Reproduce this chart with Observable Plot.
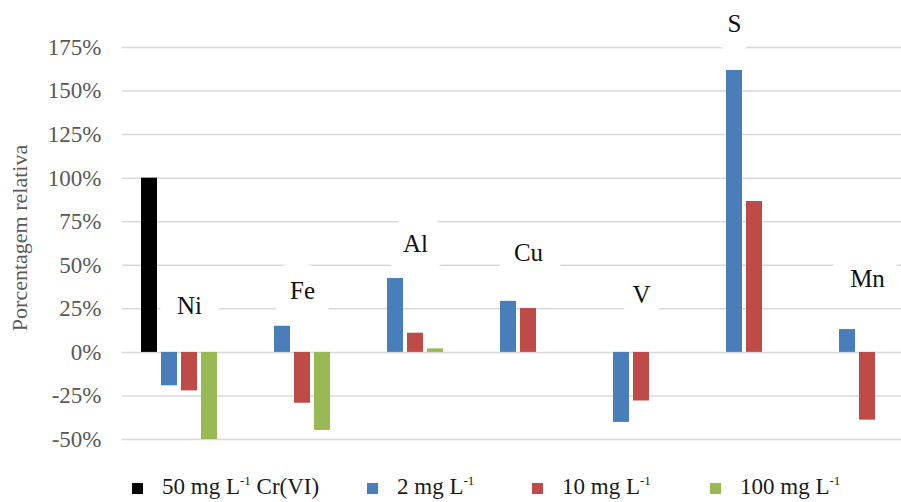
<!DOCTYPE html>
<html>
<head>
<meta charset="utf-8">
<script src="https://cdn.jsdelivr.net/npm/d3@7"></script>
<script src="https://cdn.jsdelivr.net/npm/@observablehq/plot@0.6"></script>
<style>
  html, body { margin: 0; padding: 0; background: #fff; overflow: hidden; }
  #wrap { position: relative; width: 901px; height: 502px; }
  #legend {
    position: absolute; left: 0; top: 474px; width: 901px;
    font-family: "Liberation Serif", Tinos, "DejaVu Serif", serif;
    font-size: 23px; color: #1a1a1a; line-height: 26px;
  }
  #legend .item { position: absolute; top: 0; display: flex; align-items: center; white-space: nowrap; }
  #legend .sw { display: inline-block; width: 11px; height: 11px; margin-right: 19px; }
  #legend sup { font-size: 13px; vertical-align: 0; position: relative; top: -9px; }
  #ytitle {
    position: absolute; left: 20px; top: 238px;
    transform: translate(-50%, -50%) rotate(-90deg);
    font-family: "Liberation Serif", Tinos, "DejaVu Serif", serif;
    font-size: 22px; color: #595959; white-space: nowrap;
  }
</style>
</head>
<body>
<div id="wrap">
  <div id="chart"></div>
  <div id="ytitle">Porcentagem relativa</div>
  <div id="legend"></div>
</div>
<script>
// Elements analysed and relative percentage for each concentration
const elements = ["Ni", "Fe", "Al", "Cu", "V", "S", "Mn"];
const cr50  = [100, null, null, null, null, null, null];          // 50 mg L-1 Cr(VI)
const mg2   = [-19.2, 15.0, 42.4, 29.3, -40.2, 161.8, 13.1];      // 2 mg L-1
const mg10  = [-22.1, -29.2, 11.0, 25.2, -27.9, 86.6, -38.9];     // 10 mg L-1
const mg100 = [-50.0, -44.8, 2.0, null, null, null, null];        // 100 mg L-1

const seriesKeys = ["Cr", "2", "10", "100"];
const seriesColors = ["#000000", "#4a7ebb", "#be4b48", "#98b954"];
const yTicks = [-50, -25, 0, 25, 50, 75, 100, 125, 150, 175];

// Element labels: anchored to a bar slot and a height on the percentage scale
const labelSlot = ["10", "10", "10", "10", "10", "2", "10"];
const labelY = [26.8, 35.5, 62, 57, 33, 188.5, 42.4];

const rows = [];
[cr50, mg2, mg10, mg100].forEach((vals, s) => {
  vals.forEach((v, i) => {
    if (v != null) rows.push({el: elements[i], series: seriesKeys[s], value: v});
  });
});
const labels = elements.map((el, i) => ({el, slot: labelSlot[i], y: labelY[i]}));

const serif = "'Liberation Serif', Tinos, 'DejaVu Serif', serif";

const chart = Plot.plot({
  width: 901,
  height: 455,
  marginLeft: 119,
  marginRight: -14,
  marginTop: 47,
  marginBottom: 16,
  style: {
    fontFamily: serif,
    fontSize: "23px",
    color: "#595959",
    background: "#fff"
  },
  fx: {domain: elements, paddingInner: 0, paddingOuter: 0, axis: null, label: null},
  x: {domain: seriesKeys, paddingInner: 0.21, paddingOuter: 0.905, axis: null},
  y: {domain: [-50, 175], axis: null},
  color: {domain: seriesKeys, range: seriesColors},
  marks: [
    Plot.ruleY(yTicks, {stroke: "#d9d9d9", strokeWidth: 1.5}),
    Plot.axisY(yTicks, {
      tickFormat: d => `${d}%`,
      tickSize: 0,
      tickPadding: 21,
      fontSize: 23,
      fill: "#595959",
      label: null
    }),
    Plot.barY(rows, {fx: "el", x: "series", y1: 0, y2: "value", fill: "series"}),
    Plot.text(labels, {
      fx: "el", x: "slot", y: "y", text: "el",
      fontSize: 25, fill: "#111",
      stroke: "#fff", strokeWidth: 36
    })
  ]
});
document.getElementById("chart").appendChild(chart);

// Legend below the plot
const legendText = [
  "50 mg L<sup>-1</sup> Cr(VI)",
  "2 mg L<sup>-1</sup>",
  "10 mg L<sup>-1</sup>",
  "100 mg L<sup>-1</sup>"
];
const legendLeft = [132, 367, 532, 710];
const legend = document.getElementById("legend");
legendText.forEach((t, i) => {
  const item = document.createElement("div");
  item.className = "item";
  item.style.left = legendLeft[i] + "px";
  item.innerHTML = `<span class="sw" style="background:${seriesColors[i]}"></span><span>${t}</span>`;
  legend.appendChild(item);
});
</script>
</body>
</html>
